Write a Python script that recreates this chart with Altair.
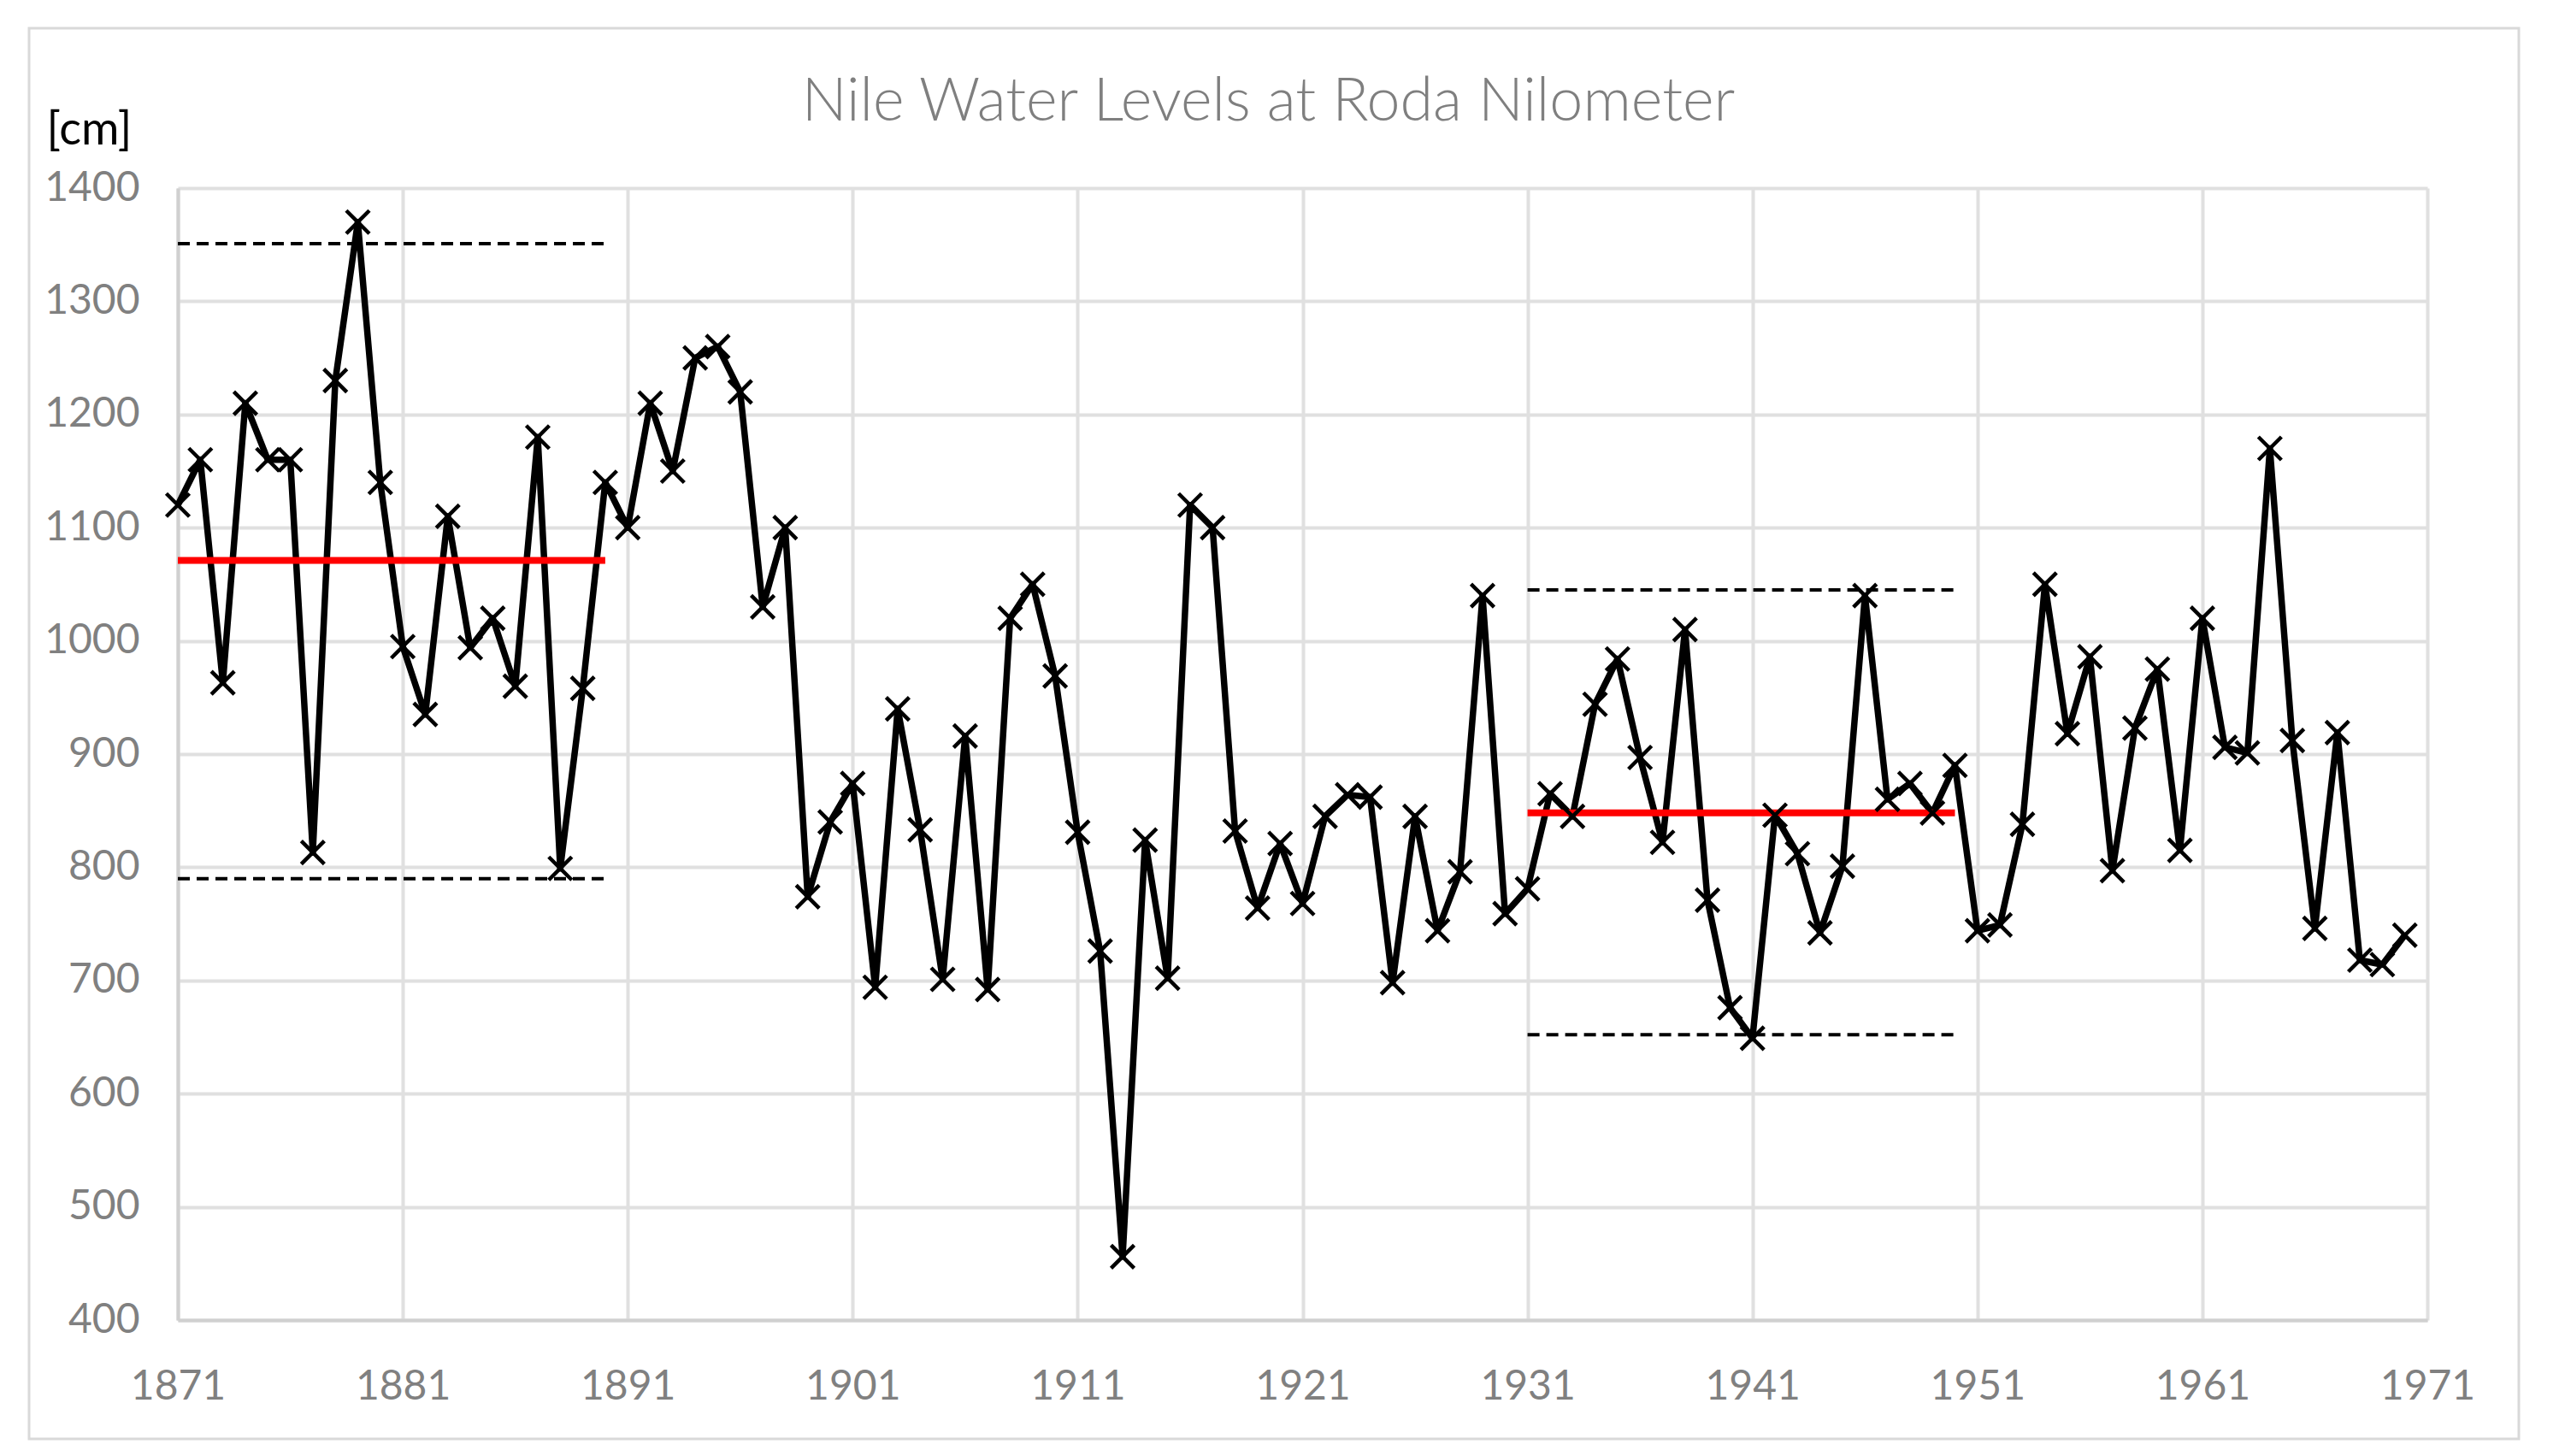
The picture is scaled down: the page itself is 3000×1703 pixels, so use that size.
import altair as alt
import pandas as pd

# ---- data ----
years = list(range(1871, 1971))
levels = [1120, 1160, 963, 1210, 1160, 1160, 813, 1230, 1370, 1140, 995, 935, 1110, 994, 1020, 960, 1180, 799, 958, 1140,
          1100, 1210, 1150, 1250, 1260, 1220, 1030, 1100, 774, 840, 874, 694, 940, 833, 701, 916, 692, 1020, 1050, 969,
          831, 726, 456, 824, 702, 1120, 1100, 832, 764, 821, 768, 845, 864, 862, 698, 845, 744, 796, 1040, 759,
          781, 865, 845, 944, 984, 897, 822, 1010, 771, 676, 649, 846, 812, 742, 801, 1040, 860, 874, 848, 890,
          744, 749, 838, 1050, 918, 986, 797, 923, 975, 815, 1020, 906, 901, 1170, 912, 746, 919, 718, 714, 740]

seg_start = [1871, 1931]
seg_end = [1890, 1950]
seg_mean = [1071, 848]
seg_upper = [1351, 1045]
seg_lower = [790, 652]

x_ticks = [1871, 1881, 1891, 1901, 1911, 1921, 1931, 1941, 1951, 1961, 1971]
y_ticks = [400, 500, 600, 700, 800, 900, 1000, 1100, 1200, 1300, 1400]

df = pd.DataFrame({"year": years, "level": levels})
seg = pd.DataFrame({"start": seg_start, "end": seg_end, "mean": seg_mean,
                    "upper": seg_upper, "lower": seg_lower})

W, H = 2631, 1324
FONT = "Lato"


def X(field):
    return alt.X(f"{field}:Q",
                 scale=alt.Scale(domain=[1871, 1971], nice=False, zero=False),
                 axis=alt.Axis(values=x_ticks, format="d", title=None, labelPadding=54,
                               labelFlush=False, labelOverlap=False))


def Y(field):
    return alt.Y(f"{field}:Q",
                 scale=alt.Scale(domain=[400, 1400], nice=False, zero=False),
                 axis=alt.Axis(values=y_ticks, format="d", title="[cm]", titleAngle=0,
                               titleX=-154, titleY=-52, titleAlign="left",
                               titleBaseline="alphabetic", titleFont=FONT, titleFontSize=54,
                               titleFontWeight="normal", titleColor="black", labelPadding=45,
                               labelFlush=False, labelOverlap=False))


border = alt.Chart(pd.DataFrame({"k": [0]})).mark_rect(
    fillOpacity=0, stroke="#d9d9d9", strokeWidth=3
).encode(x=alt.value(-174), x2=alt.value(2738), y=alt.value(-187), y2=alt.value(1463))

line = alt.Chart(df).mark_line(color="black", strokeWidth=7.5, strokeJoin="round").encode(
    x=X("year"), y=Y("level"))

points = alt.Chart(df).mark_point(
    shape="M-1,-1L1,1M-1,1L1,-1", filled=False, stroke="black", strokeWidth=4.5,
    size=729, opacity=1
).encode(x=X("year"), y=Y("level"))

mean_rule = alt.Chart(seg).mark_rule(color="#ff0000", strokeWidth=8).encode(
    x=X("start"), x2="end:Q", y=Y("mean"))

upper_rule = alt.Chart(seg).mark_rule(color="black", strokeWidth=4, strokeDash=[14, 8]).encode(
    x=X("start"), x2="end:Q", y=Y("upper"))

lower_rule = alt.Chart(seg).mark_rule(color="black", strokeWidth=4, strokeDash=[14, 8]).encode(
    x=X("start"), x2="end:Q", y=Y("lower"))

chart = alt.layer(border, upper_rule, lower_rule, line, mean_rule, points).properties(
    width=W, height=H,
    background="white",
    title=alt.TitleParams(text="Nile Water Levels at Roda Nilometer", font=FONT, fontSize=70,
                          fontWeight=300, color="#7f7f7f", anchor="middle", offset=-124, dx=-40),
    autosize=alt.AutoSizeParams(type="none"),
    padding={"left": 200, "top": 212, "right": 153, "bottom": 151},
).configure_axis(
    grid=True, gridColor="#e0e0e0", gridWidth=4, domainColor="#d0d0d0", domainWidth=4,
    ticks=False, labelFont=FONT, labelFontSize=48, labelColor="#808080"
).configure_view(stroke=None)

chart.save("out.html", embed_options={"renderer": "svg", "actions": False})
